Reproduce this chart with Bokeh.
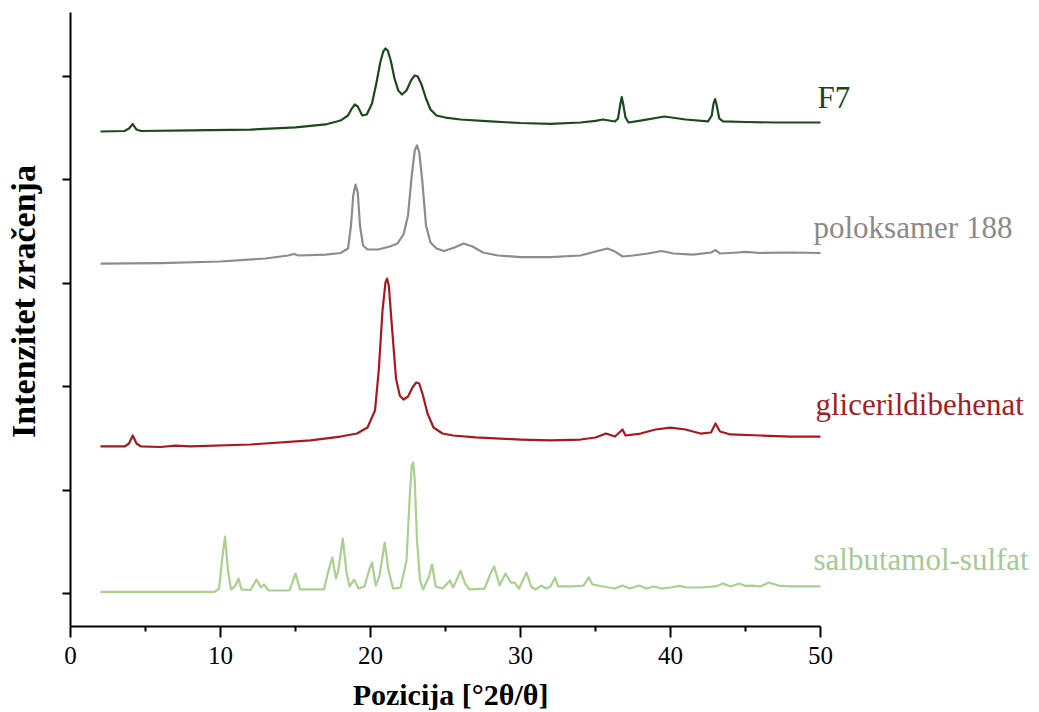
import math
from bokeh.plotting import figure
from bokeh.models import Range1d, FixedTicker, ColumnDataSource
from bokeh.embed import file_html
from bokeh.resources import INLINE
from bokeh.core.properties import value

# ---------------- data (2theta in degrees, intensity in arbitrary stacked units) ----------------
x_f7 = [2.0, 3.6, 3.9, 4.15, 4.4, 4.7, 8.0, 12.0, 15.0, 17.0, 18.0, 18.5, 18.75, 18.95, 19.15, 19.45,
        19.75, 20.1, 20.4, 20.65, 20.85, 21.0, 21.15, 21.35, 21.6, 21.85, 22.1, 22.4, 22.7, 22.95,
        23.15, 23.4, 23.7, 24.0, 24.4, 25.0, 26.0, 28.0, 30.0, 32.0, 34.0, 35.0, 35.5, 36.3, 36.5,
        36.65, 36.75, 36.85, 37.0, 37.2, 38.0, 39.6, 41.0, 42.5, 42.75, 42.87, 42.97, 43.07, 43.25,
        43.5, 45.0, 47.0, 50.0]
y_f7 = [4468, 4473, 4497, 4540, 4487, 4473, 4478, 4487, 4507, 4536, 4574, 4623, 4690, 4729, 4710, 4623,
        4632, 4739, 4942, 5135, 5242, 5271, 5251, 5155, 4981, 4865, 4826, 4865, 4961, 5010,
        5000, 4923, 4787, 4681, 4623, 4603, 4584, 4565, 4550, 4542, 4555, 4570, 4584, 4565, 4594,
        4729, 4802, 4729, 4603, 4555, 4574, 4613, 4584, 4565, 4623, 4739, 4782, 4729, 4594,
        4565, 4560, 4555, 4555]

x_pol = [2.0, 6.0, 10.0, 13.0, 14.5, 14.9, 15.2, 17.0, 18.0, 18.5, 18.7, 18.85, 19.0, 19.15, 19.3,
         19.5, 19.8, 20.5, 21.3, 21.8, 22.2, 22.5, 22.75, 22.95, 23.1, 23.25, 23.45, 23.7, 24.0,
         24.4, 24.9, 25.6, 26.2, 26.8, 27.5, 28.5, 30.0, 32.0, 34.0, 35.0, 35.8, 36.3, 36.8, 37.5,
         38.5, 39.4, 40.2, 41.5, 42.7, 43.0, 43.3, 44.5, 45.0, 46.0, 48.0, 50.0]
y_pol = [3191, 3196, 3211, 3240, 3269, 3283, 3269, 3278, 3293, 3336, 3559, 3849, 3955, 3878, 3559,
         3366, 3327, 3327, 3356, 3385, 3472, 3656, 4042, 4284, 4333, 4265, 3994, 3559, 3395,
         3336, 3312, 3346, 3385, 3356, 3298, 3269, 3254, 3254, 3269, 3307, 3336, 3307, 3259, 3269,
         3288, 3312, 3288, 3278, 3298, 3322, 3288, 3298, 3303, 3293, 3298, 3293]

x_gli = [2.0, 3.6, 3.9, 4.15, 4.4, 4.7, 6.0, 7.0, 8.0, 12.0, 16.0, 18.0, 19.1, 19.8, 20.3, 20.55,
         20.8, 21.0, 21.1, 21.22, 21.45, 21.7, 21.95, 22.2, 22.5, 22.8, 23.05, 23.25, 23.5, 23.8,
         24.2, 24.8, 25.5, 27.0, 30.0, 32.0, 34.0, 35.0, 35.7, 36.3, 36.8, 37.0, 38.0, 39.0, 40.0,
         41.0, 42.0, 42.7, 43.0, 43.3, 44.0, 46.0, 48.0, 50.0]
y_gli = [1422, 1422, 1451, 1528, 1451, 1422, 1417, 1431, 1422, 1441, 1480, 1518, 1547, 1605, 1770, 2157,
         2737, 3008, 3046, 2979, 2543, 2079, 1915, 1876, 1905, 1992, 2041, 2031, 1915, 1741,
         1605, 1547, 1528, 1509, 1489, 1480, 1489, 1509, 1547, 1518, 1586, 1528, 1547, 1586, 1605,
         1586, 1547, 1557, 1644, 1567, 1538, 1528, 1518, 1518]

x_sal = [2.0, 9.6, 9.9, 10.1, 10.3, 10.5, 10.7, 11.0, 11.2, 11.4, 12.0, 12.4, 12.7, 12.9, 13.2, 14.6,
         15.0, 15.3, 16.9, 17.2, 17.45, 17.7, 17.85, 18.15, 18.4, 18.6, 18.9, 19.2, 19.6, 19.9, 20.1,
         20.35, 20.6, 20.95, 21.2, 21.5, 22.0, 22.4, 22.6, 22.75, 22.85, 22.95, 23.1, 23.3, 23.5,
         23.9, 24.1, 24.35, 24.8, 25.3, 25.5, 25.7, 26.0, 26.3, 26.6, 27.6, 28.0, 28.25, 28.6, 29.0,
         29.35, 29.6, 29.9, 30.4, 30.7, 31.0, 31.4, 31.7, 32.0, 32.3, 32.5, 33.5, 34.2, 34.55, 34.8,
         35.5, 36.3, 36.8, 37.3, 37.9, 38.4, 38.9, 39.4, 40.0, 40.6, 41.1, 42.0, 43.0, 43.5, 44.0,
         44.6, 45.0, 45.5, 46.0, 46.55, 47.2, 48.0, 50.0]
y_sal = [15, 15, 48, 319, 551, 222, 39, 77, 145, 39, 34, 135, 58, 87, 29, 29,
         193, 39, 39, 222, 348, 145, 222, 532, 203, 68, 135, 48, 68, 222, 300,
         77, 174, 493, 222, 48, 58, 319, 899, 1238, 1267, 1093, 513, 126, 39,
         164, 280, 68, 48, 126, 58, 116, 222, 97, 39, 48, 193, 261, 77, 193,
         106, 106, 48, 203, 68, 39, 77, 48, 68, 155, 68, 68, 77, 155, 87,
         68, 48, 77, 48, 77, 48, 68, 48, 58, 73, 58, 58, 68, 97, 68,
         97, 73, 77, 68, 106, 77, 68, 68]

label_text = ["F7", "poloksamer 188", "glicerildibehenat", "salbutamol-sulfat"]
y_ticks = [0, 1000, 2000, 3000, 4000, 5000]
x_ticks = [0, 10, 20, 30, 40, 50]
x_minor = [5, 15, 25, 35, 45]
x_title = "Pozicija [°2θ/θ]"
y_title = "Intenzitet zračenja"

# ---------------- layout / styling (not data) ----------------
colors = ["#1d4a1d", "#8c8c8c", "#a8191e", "#a9d08e"]
label_colors = ["#1d441d", "#8a8a8a", "#a31d24", "#a6c995"]
SERIF = "Liberation Serif"

# the frame covers the whole canvas; axes are pinned at fixed data locations
W, H = 1038, 710
X0_PX, PX_PER_X = 70.0, 15.0          # pixel column of 2theta = 0, pixels per degree
Y0_PX, UNITS_PER_PX = 593.0, 9.671    # pixel row of intensity 0, intensity units per pixel


def px_to_x(px):
    return (px - X0_PX) / PX_PER_X


def py_to_y(py):
    return (Y0_PX - py) * UNITS_PER_PX


# label anchor points (left edge, vertical middle of the text) in canvas pixels
label_px = [817, 813, 815, 813]
label_py = [97, 227, 404, 559]

x_lo, x_hi = px_to_x(0), px_to_x(W)
y_lo, y_hi = py_to_y(H), py_to_y(0)
axis_y = py_to_y(626)     # intensity where the x axis is drawn
axis_top = py_to_y(12)

p = figure(frame_width=W, frame_height=H,
           x_range=Range1d(x_lo, x_hi), y_range=Range1d(y_lo, y_hi),
           output_backend="svg", toolbar_location=None,
           min_border_left=0, min_border_top=0, min_border_right=0, min_border_bottom=0)
p.outline_line_color = None
p.xgrid.visible = False
p.ygrid.visible = False
p.background_fill_color = "white"
p.border_fill_color = "white"

for xs, ys, c in [(x_f7, y_f7, colors[0]), (x_pol, y_pol, colors[1]),
                  (x_gli, y_gli, colors[2]), (x_sal, y_sal, colors[3])]:
    p.line(xs, ys, line_color=c, line_width=2.2, line_join="round")

src = ColumnDataSource(dict(x=[px_to_x(v) for v in label_px], y=[py_to_y(v) for v in label_py],
                            t=label_text, c=label_colors))
p.text(x="x", y="y", text="t", text_color="c", source=src,
       text_font=value(SERIF), text_font_size="31px",
       text_baseline="middle", text_align="left")

# axis titles
p.text(x=[px_to_x(450)], y=[py_to_y(694)], text=[x_title],
       text_color="black", text_font=value(SERIF), text_font_style="bold",
       text_font_size="30px", text_baseline="middle", text_align="center")
p.text(x=[px_to_x(23)], y=[py_to_y(301)], text=[y_title],
       angle=math.pi / 2, text_color="black", text_font=value(SERIF), text_font_style="bold",
       text_font_size="34px", text_baseline="middle", text_align="center")

xa = p.xaxis[0]
xa.fixed_location = axis_y
xa.bounds = (0, 50)
xa.ticker = FixedTicker(ticks=x_ticks, minor_ticks=x_minor)
xa.axis_line_width = 2
xa.axis_line_color = "black"
xa.major_tick_line_width = 2
xa.minor_tick_line_width = 2
xa.major_tick_in = 0
xa.major_tick_out = 11
xa.minor_tick_in = 0
xa.minor_tick_out = 5
xa.major_label_standoff = 9
xa.major_label_text_font = SERIF
xa.major_label_text_font_size = "25px"
xa.major_label_text_color = "black"

ya = p.yaxis[0]
ya.fixed_location = 0
ya.bounds = (axis_y, axis_top)
ya.ticker = FixedTicker(ticks=y_ticks, minor_ticks=[])
ya.axis_line_width = 2
ya.axis_line_color = "black"
ya.major_tick_line_width = 2
ya.major_tick_in = 0
ya.major_tick_out = 8
ya.minor_tick_in = 0
ya.minor_tick_out = 0
ya.major_label_overrides = {t: "" for t in y_ticks}
ya.major_label_text_font_size = "1px"
ya.major_label_standoff = 0

open("out.html", "w").write(file_html(p, INLINE))
